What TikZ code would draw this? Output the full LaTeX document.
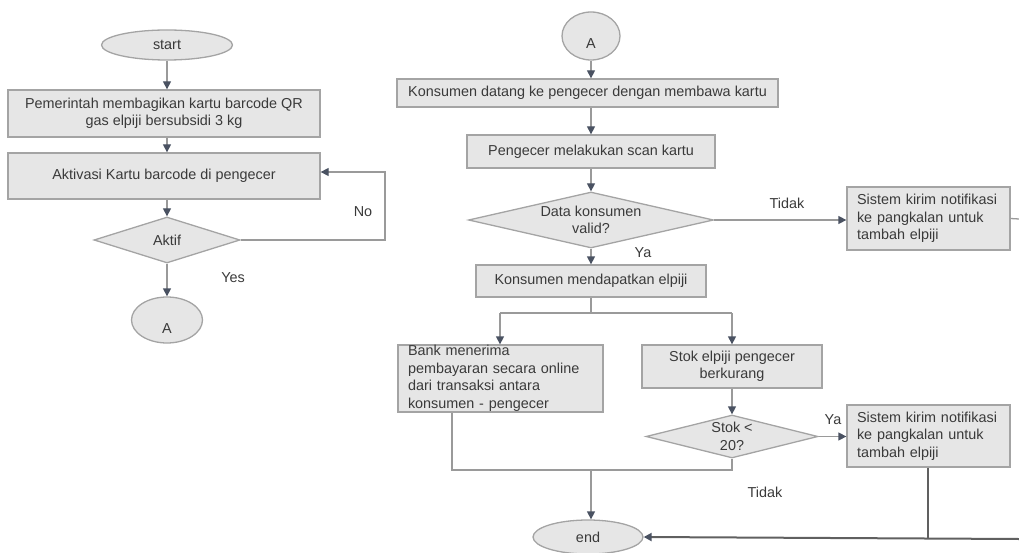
\documentclass[tikz,border=0pt]{standalone}
\usepackage{fontspec}
\setmainfont{Liberation Sans}
\usetikzlibrary{shapes.geometric,arrows.meta}
\definecolor{boxfill}{HTML}{E6E6E6}
\definecolor{boxline}{HTML}{A4A4A4}
\definecolor{conn}{HTML}{9A9A9A}
\definecolor{tipc}{HTML}{4A5262}
\definecolor{txt}{HTML}{3A3A3A}
\begin{document}
\begin{tikzpicture}[x=1pt,y=-1pt,
  base/.style={draw=boxline, fill=boxfill, line width=1.3pt, inner sep=0pt,
    text=txt, font=\fontsize{14.4}{17.5}\selectfont},
  proc/.style={base, rectangle, align=center},
  procl/.style={base, rectangle, align=left, inner xsep=10pt},
  dia/.style={base, diamond},
  term/.style={base, ellipse},
  lbl/.style={text=txt, font=\fontsize{14.4}{17.5}\selectfont, inner sep=0pt},
  conn/.style={draw=conn, line width=1.3pt},
  arr/.style={conn, -{Triangle[length=8pt,width=8pt,color=tipc]}},
  thick conn/.style={draw=gray!75!black, line width=2pt},
]
\useasboundingbox (0,0) rectangle (1019,553);

% ---------- left column ----------
\node[term, minimum width=131, minimum height=30] (start) at (167,45) {start};
\node[proc, minimum width=312, minimum height=47] (b1) at (164,113.5)
  {Pemerintah membagikan kartu barcode QR\\gas elpiji bersubsidi 3 kg};
\node[proc, minimum width=312, minimum height=46] (b2) at (164,176)
  {Aktivasi Kartu barcode di pengecer};
\node[dia, minimum width=146, minimum height=46,
  label={[lbl]center:Aktif}] (aktif) at (167,240) {};
\node[term, minimum width=71, minimum height=46,
  label={[lbl,yshift=-9pt]center:A}] (a1) at (167,320) {};

\coordinate (loopR) at (385,240);
\coordinate (loopT) at (385,172);

\draw[arr] (start) -- (start |- b1.north);
\draw[arr] (start |- b1.south) -- (start |- b2.north);
\draw[arr] (aktif |- b2.south) -- (aktif);
\draw[arr] (aktif.east) -- (loopR) -- (loopT) -- (b2.east |- loopT);
\draw[arr] (aktif) -- (a1);
\node[lbl] (no) at (363,212) {No};
\node[lbl] (yes) at (233,278) {Yes};

% ---------- right column ----------
\node[term, minimum width=58, minimum height=48,
  label={[lbl,yshift=-8pt]center:A}] (a2) at (591,36) {};
\node[proc, minimum width=381, minimum height=28] (b3) at (587.5,93)
  {Konsumen datang ke pengecer dengan membawa kartu};
\node[proc, minimum width=248, minimum height=33] (b4) at (591,151.5)
  {Pengecer melakukan scan kartu};
\node[dia, minimum width=245, minimum height=56,
  label={[lbl,align=center]center:Data konsumen\\valid?}] (d1) at (591,220) {};
\node[proc, minimum width=230, minimum height=32] (b5) at (591,281)
  {Konsumen mendapatkan elpiji};
\node[procl, minimum width=163, minimum height=63, text width=143] (b6) at (928.5,218.5)
  {Sistem kirim notifikasi\\ke pangkalan untuk\\tambah elpiji};
\node[procl, minimum width=205, minimum height=67, text width=185] (b7) at (500.5,378.5)
  {Bank menerima\\pembayaran secara online\\dari transaksi antara\\konsumen - pengecer};
\node[proc, minimum width=180, minimum height=43] (b8) at (732,366.5)
  {Stok elpiji pengecer\\berkurang};
\node[dia, minimum width=172, minimum height=43,
  label={[lbl,align=center]center:Stok <\\20?}] (d2) at (732,436.5) {};
\node[procl, minimum width=163, minimum height=62, text width=143] (b9) at (928.5,436)
  {Sistem kirim notifikasi\\ke pangkalan untuk\\tambah elpiji};
\node[term, minimum width=110, minimum height=34] (end) at (588,537) {end};

\coordinate (splitL) at (500,313);
\coordinate (splitR) at (732,313);
\coordinate (mergeL) at (452,470);
\coordinate (mergeR) at (732,470);
\coordinate (mergeM) at (591,470);
\coordinate (outTop) at (1019,219);
\coordinate (outBot) at (1019,539);
\coordinate (b9down) at (928,539);

\draw[arr] (a2) -- (a2 |- b3.north);
\draw[arr] (b4 |- b3.south) -- (b4);
\draw[arr] (b4) -- (d1);
\draw[arr] (d1) -- (b5);
\draw[arr] (d1.east) -- (b6.west |- d1.east);
\draw[conn] (b6.east) -- (outTop);
\draw[conn] (b5.south) -- (b5.south |- splitL);
\draw[conn] (splitL) -- (splitR);
\draw[arr] (splitL) -- (b7.north -| splitL);
\draw[arr] (splitR) -- (b8);
\draw[arr] (b8) -- (d2);
\draw[arr] (d2.east) -- (b9.west |- d2.east);
\draw[conn] (b7.south -| mergeL) -- (mergeL) -- (mergeR) -- (d2.south);
\draw[arr] (mergeM) -- (mergeM |- end.north);
\draw[thick conn] (b9.south -| b9down) -- (b9down);
\draw[thick conn, -{Triangle[length=8pt,width=8pt,color=tipc]}] (outBot) -- (end.east);

\node[lbl] (tidak1) at (787,203) {Tidak};
\node[lbl] (ya1) at (643,253) {Ya};
\node[lbl] (ya2) at (833,420) {Ya};
\node[lbl] (tidak2) at (765,492) {Tidak};
\end{tikzpicture}
\end{document}
